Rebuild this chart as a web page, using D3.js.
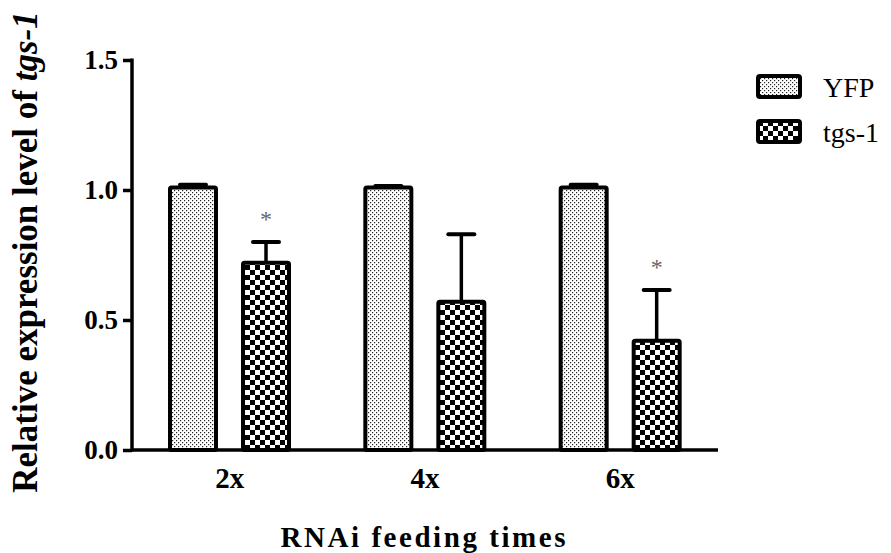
<!DOCTYPE html>
<html>
<head>
<meta charset="utf-8">
<script src="https://cdn.jsdelivr.net/npm/d3@7"></script>
<style>
  body { margin: 0; background: #fff; }
  svg text { font-family: "Liberation Serif", "Times New Roman", serif; }
</style>
</head>
<body>
<svg id="chart" width="891" height="553"></svg>
<script>
// data
var groups = ["2x", "4x", "6x"];
var series = ["YFP", "tgs-1"];
var yfpMean = [1.01, 1.01, 1.01];
var yfpErr = [0.01, 0.005, 0.01];
var tgsMean = [0.72, 0.57, 0.42];
var tgsErr = [0.08, 0.26, 0.195];
var starred = [true, false, true];
var yTicks = [0, 0.5, 1.0, 1.5];

var svg = d3.select("#chart");

var x = d3.scaleBand()
  .domain(groups)
  .range([132, 718])
  .padding(0);

var inner = d3.scaleBand()
  .domain(series)
  .range([38, 157])
  .paddingInner(0.37);

var y = d3.scaleLinear()
  .domain([0, 1.5])
  .range([450, 60]);

// fill patterns
var defs = svg.append("defs");
var dots = defs.append("pattern")
  .attr("id", "dots")
  .attr("patternUnits", "userSpaceOnUse")
  .attr("width", 4)
  .attr("height", 4);
dots.append("rect").attr("width", 4).attr("height", 4).attr("fill", "#fff");
dots.append("rect").attr("x", 0).attr("y", 0).attr("width", 1.2).attr("height", 1.2).attr("fill", "#222");
dots.append("rect").attr("x", 2).attr("y", 2).attr("width", 1.2).attr("height", 1.2).attr("fill", "#222");

var checks = defs.append("pattern")
  .attr("id", "checks")
  .attr("patternUnits", "userSpaceOnUse")
  .attr("width", 10)
  .attr("height", 10);
checks.append("rect").attr("width", 10).attr("height", 10).attr("fill", "#fff");
checks.append("rect").attr("x", 0).attr("y", 0).attr("width", 5).attr("height", 5).attr("fill", "#000");
checks.append("rect").attr("x", 5).attr("y", 5).attr("width", 5).attr("height", 5).attr("fill", "#000");

var fills = { "YFP": "url(#dots)", "tgs-1": "url(#checks)" };

var rows = [];
groups.forEach(function(g, i)
{
  rows.push({ group: g, key: "YFP", mean: yfpMean[i], err: yfpErr[i], star: false });
  rows.push({ group: g, key: "tgs-1", mean: tgsMean[i], err: tgsErr[i], star: starred[i] });
});

// error bars (drawn first so bar outline covers stem base)
var capW = 26;
var err = svg.append("g").selectAll("g")
  .data(rows)
  .enter().append("g");

err.append("line")
  .attr("x1", function(d) { return x(d.group) + inner(d.key) + inner.bandwidth() / 2; })
  .attr("x2", function(d) { return x(d.group) + inner(d.key) + inner.bandwidth() / 2; })
  .attr("y1", function(d) { return y(d.mean); })
  .attr("y2", function(d) { return y(d.mean + d.err); })
  .attr("stroke", "#000")
  .attr("stroke-width", 3.5);

err.append("line")
  .attr("x1", function(d) { return x(d.group) + inner(d.key) + inner.bandwidth() / 2 - capW / 2; })
  .attr("x2", function(d) { return x(d.group) + inner(d.key) + inner.bandwidth() / 2 + capW / 2; })
  .attr("y1", function(d) { return y(d.mean + d.err); })
  .attr("y2", function(d) { return y(d.mean + d.err); })
  .attr("stroke", "#000")
  .attr("stroke-width", 4)
  .attr("stroke-linecap", "round");

// bars
svg.append("g").selectAll("rect")
  .data(rows)
  .enter().append("rect")
  .attr("x", function(d) { return x(d.group) + inner(d.key); })
  .attr("y", function(d) { return y(d.mean); })
  .attr("width", inner.bandwidth())
  .attr("height", function(d) { return y(0) - y(d.mean); })
  .attr("fill", function(d) { return fills[d.key]; })
  .attr("stroke", "#000")
  .attr("stroke-width", 4)
  .attr("rx", 1.5);

// significance stars
svg.append("g").selectAll("text")
  .data(rows.filter(function(d) { return d.star; }))
  .enter().append("text")
  .attr("x", function(d) { return x(d.group) + inner(d.key) + inner.bandwidth() / 2; })
  .attr("y", function(d) { return y(d.mean + d.err) - 15; })
  .attr("text-anchor", "middle")
  .attr("font-size", 24)
  .attr("fill", "#666")
  .text("*");

// axes
var yAxis = d3.axisLeft(y)
  .tickValues(yTicks)
  .tickSize(9)
  .tickPadding(5)
  .tickFormat(d3.format(".1f"));

var gy = svg.append("g")
  .attr("transform", "translate(132,0)")
  .call(yAxis);
gy.select(".domain").remove();
gy.append("line")
  .attr("x1", 0).attr("x2", 0)
  .attr("y1", y(1.5) - 1.5).attr("y2", y(0) + 1.5)
  .attr("stroke", "#000")
  .attr("stroke-width", 3.5);
gy.selectAll(".tick line").attr("stroke-width", 3.5);
gy.selectAll(".tick text")
  .attr("font-family", "Liberation Serif, serif")
  .attr("font-size", 27)
  .attr("font-weight", "bold")
  .attr("fill", "#000");

var xAxis = d3.axisBottom(x)
  .tickSize(0)
  .tickPadding(17);

var gx = svg.append("g")
  .attr("transform", "translate(0,450)")
  .call(xAxis);
gx.select(".domain").remove();
gx.append("line")
  .attr("x1", 132).attr("x2", 718)
  .attr("y1", 0).attr("y2", 0)
  .attr("stroke", "#000")
  .attr("stroke-width", 3.5);
gx.selectAll(".tick text")
  .attr("font-family", "Liberation Serif, serif")
  .attr("font-size", 29)
  .attr("font-weight", "bold")
  .attr("fill", "#000");

// axis titles
svg.append("text")
  .attr("x", 423)
  .attr("y", 547)
  .attr("text-anchor", "middle")
  .attr("font-size", 29)
  .attr("font-weight", "bold")
  .attr("textLength", 285)
  .attr("lengthAdjust", "spacing")
  .text("RNAi feeding times");

var yt = svg.append("text")
  .attr("transform", "translate(37,252) rotate(-90)")
  .attr("text-anchor", "middle")
  .attr("font-size", 35)
  .attr("font-weight", "bold");
yt.append("tspan").text("Relative expression level of ");
yt.append("tspan").attr("font-style", "italic").text("tgs-1");

// legend
var legend = svg.append("g").selectAll("g")
  .data(series)
  .enter().append("g")
  .attr("transform", function(d, i) { return "translate(758," + (76 + i * 45) + ")"; });

legend.append("rect")
  .attr("width", 42)
  .attr("height", 21)
  .attr("rx", 2)
  .attr("fill", function(d) { return fills[d]; })
  .attr("stroke", "#000")
  .attr("stroke-width", 4);

legend.append("text")
  .attr("x", 65)
  .attr("y", 21)
  .attr("font-size", 28)
  .attr("fill", "#000")
  .text(function(d) { return d; });
</script>
</body>
</html>
